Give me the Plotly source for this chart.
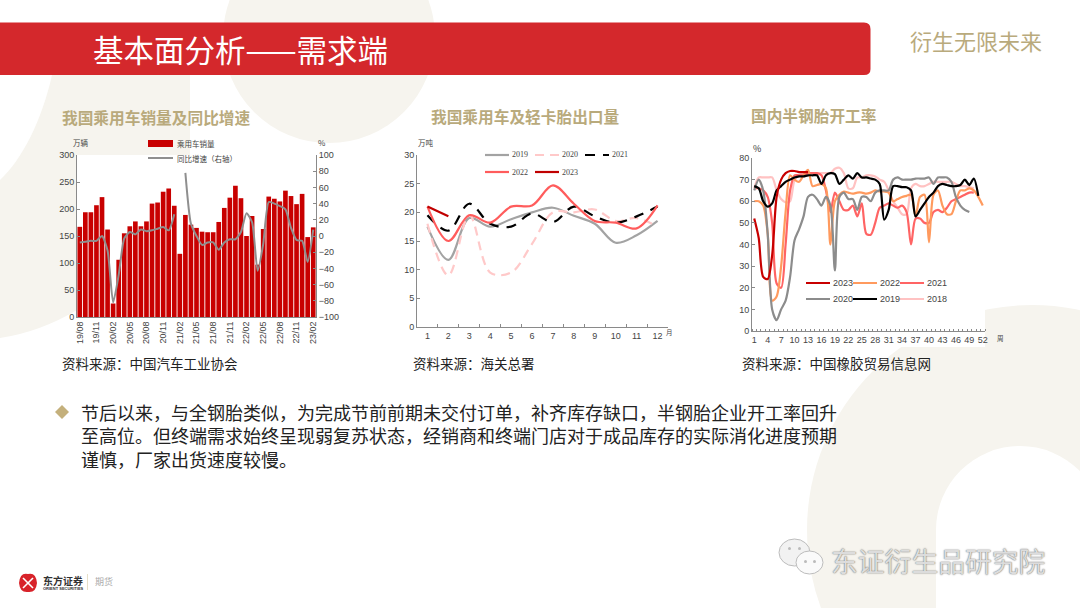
import plotly.graph_objects as go

W, H = 1080, 608
CJK = "Noto Sans CJK SC"
NUM = "Liberation Sans"
BEIGE = "#f6f4ee"
GOLD = "#b9aa7c"
AXIS = "#8a8a8a"

# ---------- Chart 1 data ----------
months = ["19/08","19/09","19/10","19/11","19/12","20/01","20/02","20/03","20/04","20/05","20/06",
          "20/07","20/08","20/09","20/10","20/11","20/12","21/01","21/02","21/03","21/04","21/05",
          "21/06","21/07","21/08","21/09","21/10","21/11","21/12","22/01","22/02","22/03","22/04",
          "22/05","22/06","22/07","22/08","22/09","22/10","22/11","22/12","23/01","23/02"]
month_ticks = ["19/08","19/11","20/02","20/05","20/08","20/11","21/02","21/05","21/08","21/11",
               "22/02","22/05","22/08","22/11","23/02"]
sales = [167,194,194,207,222,162,25,106,155,168,177,168,177,210,212,232,238,206,117,189,171,165,
         158,157,157,176,202,221,243,220,150,187,97,163,223,219,214,234,224,209,228,148,166]
yoy = [-8,-7,-6,-6,0,-18,-82,-48,-3,5,2,8,6,7,9,11,7,27,None,78,15,0,-11,-8,-8,-17,-8,-4,-4,5,28,
       17,-43,-10,42,40,37,33,10,-5,-6,-32,8]

# ---------- Chart 2 data ----------
month_nums = ["1","2","3","4","5","6","7","8","9","10","11","12"]
exp_2019 = [17.5,11.7,19,17.5,18.8,20,20.8,19.4,18,14.7,16,18.5]
exp_2020 = [18,9,19.5,9.5,9.5,14.5,20,20,20.5,18.5,19,17.5]
exp_2021 = [19.5,16.8,21.5,18,17.5,19.8,18.3,21,19.3,18.2,19.3,21]
exp_2022 = [21,15,19.5,18.2,21,21.2,24.7,21.5,18.5,18.2,17.2,21.2]
exp_2023 = [21,19.3]

# ---------- Chart 3 data ----------
weeks = list(range(1, 53))
week_ticks = list(range(1, 53, 3))
run_2023 = [52,43,25,24,35,62,70,73,74,74,73.5,73.5,73.5]
run_2022 = [60,60,58,45,14,16,30,55,72,70,69,72,74.5,67,67.5,68,66,40,60,63,64.5,64,63.5,64,64,63.5,
            64,65,64.5,64.5,64,60,61,62,62.5,63,53,62,63,41,63,65,58,54,54,60,65,65,66,65,62,58]
run_2021 = [66,66,65,62,50,22,20,40,65,72,72,72,73,73,73,72,65,55,64,60,56,56,58,53,59,45,44.5,50,57,
            58,59,58,57,58,55,40,52,52,50,50,55,56,55,57,60,61,62,63,64,64]
run_2020 = [65,70,65,45,10,5,10,14,25,42,47,53,62,63,61,58,62,58,28,62,64,61,61,56,62,62,60,64,65,65,
            65,70,71,70,70,70,70.5,70.5,70.5,71,68,71,71,71,69,62,58,56,55]
run_2019 = [67,66,60,57.5,59,65,67,69,70,71,71.5,71.5,72,72,72,68,72,73,72.5,68,70,72,70.5,73,71,71,
            70.5,70,68,51.5,56,67,67,66.5,66.5,65,53,56,59,62,64,67,68,67.5,67,67,67.5,70,67.5,70.5,62.5]
run_2018 = [66,71,71,71,71,65,61,59.5,60,70,72,73,73,73,73,73,73,73,75,75.5,73,66,66,71,71,72,72,71.5,
            70,69,65,60,57,54,54,66,68,67,67,68,69,69,69,69,69,68,67,67,66.5,66]

C2 = {"2019":("#a3a3a3",None),"2020":("#ffc9c9","9px,6px"),"2021":("#000000","10px,8px"),
      "2022":("#ff5c5c",None),"2023":("#c00000",None)}
C3 = {"2023":"#c80000","2022":"#ff9a5e","2021":"#ff6464","2020":"#8c8c8c","2019":"#000000","2018":"#ffc2c2"}

BODY = ("节后以来，与全钢胎类似，为完成节前前期未交付订单，补齐库存缺口，半钢胎企业开工率回升<br>"
        "至高位。但终端需求始终呈现弱复苏状态，经销商和终端门店对于成品库存的实际消化进度预期<br>"
        "谨慎，厂家出货速度较慢。")

def fx(v): return v / W
def fy(v): return 1 - v / H
def dom_x(a, b): return [fx(a), fx(b)]
def dom_y(top, bottom): return [fy(bottom), fy(top)]

def rect(x0, y0, x1, y1, color, layer="below"):
    return dict(type="rect", xref="paper", yref="paper", x0=fx(x0), x1=fx(x1), y0=fy(y0), y1=fy(y1),
                fillcolor=color, line_width=0, layer=layer)

def circle(x0, y0, x1, y1, color, line=None, layer="below"):
    return dict(type="circle", xref="paper", yref="paper", x0=fx(x0), x1=fx(x1), y0=fy(y0), y1=fy(y1),
                fillcolor=color, line=dict(width=1 if line else 0, color=line or color), layer=layer)

def seg(x0, y0, x1, y1, color, width=2, dash=None, layer="below"):
    return dict(type="line", xref="paper", yref="paper", x0=fx(x0), x1=fx(x1), y0=fy(y0), y1=fy(y1),
                line=dict(color=color, width=width, dash=dash or "solid"), layer=layer)

def path(cmds, color, layer="below"):
    out = []
    for c in cmds:
        if len(c) == 1:
            out.append(c[0])
        else:
            pts = [f"{fx(c[i])},{fy(c[i+1])}" for i in range(1, len(c), 2)]
            out.append(c[0] + " ".join(pts))
    return dict(type="path", xref="paper", yref="paper", path=" ".join(out), fillcolor=color,
                line_width=0, layer=layer)

shapes = [
    path([("M",52,75),("C",42,120,22,160,0,180),("L",0,338),("Q",40,332,77,310),("L",77,155),
          ("L",190,155),("L",190,75),("Z",)], BEIGE),
    circle(223,-69,435,143,BEIGE),
    circle(807,305,1257,755,BEIGE),
    circle(936,446,1104,614,"white"),
    rect(936,530,1080,608,"white"),
    rect(735,140,985,347,"white"),
    path([("M",0,22.5),("L",864,22.5),("Q",870.5,22.5,870.5,29),("L",870.5,69),("Q",870.5,75,864,75),
          ("L",0,75),("Z",)], "#d4282c"),
    path([("M",55,412),("L",62,405),("L",69,412),("L",62,419),("Z",)], "#c4b07c"),
    path([("M",28,574),("Q",36,572,37,583),("Q",36,593,28,592),("Q",20,593,19,583),("Q",20,572,28,574),("Z",)],
         "#d8232a"),
    seg(23,578,33,588,"white",1.6),
    seg(23,588,33,578,"white",1.6),
    seg(87.5,574,87.5,590,"#e6dfc8",1),
    circle(779,539,810,566,"#f2f2f2","#bdbdbd",layer="above"),
    circle(796,551,823,574,"#fafafa","#bdbdbd",layer="above"),
    circle(788,547,791,550,"#bbbbbb",layer="above"),
    circle(798,547,801,550,"#bbbbbb",layer="above"),
    circle(804,560,807,563,"#bbbbbb",layer="above"),
    circle(813,560,816,563,"#bbbbbb",layer="above"),
]

def note(x, y, text, size, color="#222222", anchor="left", font=CJK, bold=False, shadow=None, angle=0):
    f = dict(family=font, size=size, color=color, weight="bold" if bold else "normal")
    if shadow:
        f["shadow"] = shadow
    return dict(xref="paper", yref="paper", x=fx(x), y=fy(y), text=text, showarrow=False, font=f,
                xanchor=anchor, yanchor="middle", textangle=angle, borderpad=0, align="left")

annotations = [
    note(92,49,"基本面分析——需求端",30.5,"white"),
    note(909,40,"衍生无限未来",22,GOLD),
    note(61,117,"我国乘用车销量及同比增速",15.7,GOLD,bold=True),
    note(430,116.5,"我国乘用车及轻卡胎出口量",15.7,GOLD,bold=True),
    note(750,116,"国内半钢胎开工率",15.7,GOLD,bold=True),
    note(61,363,"资料来源：中国汽车工业协会",13.5),
    note(412,363,"资料来源：海关总署",13.5),
    note(741,363,"资料来源：中国橡胶贸易信息网",13.5),
    note(80,435.5,BODY,18),
    note(72,142,"万辆",7.5,"#444444"),
    note(317,142,"%",8,"#444444"),
    note(417,142,"万吨",7.5,"#444444"),
    note(665,332,"月",6.5,"#444444"),
    note(752,148,"%",9,"#333333"),
    note(996,338,"周",6.5,"#444444"),
    note(42,580,"东方证券",10,"#333333",bold=True),
    note(42,588,"ORIENT SECURITIES",4,"#333333",font=NUM,bold=True),
    note(94,581,"期货",9,"#aaaaaa"),
    note(830,560,"东证衍生品研究院",26.8,"#dcdcdc",shadow="0px 0px 1.5px #444444"),
]

# hand-placed keys: the reference's legends have tight, irregular spacing
shapes.append(rect(148,140,173,147,"#c80000"))
annotations.append(note(176,143.5,"乘用车销量",7.5,"#444444"))
shapes.append(seg(148,158,173,158,"#8f8f8f",2))
annotations.append(note(176,158,"同比增速（右轴）",7.5,"#444444"))

for name,(lx,ly) in {"2019":(485,155),"2020":(535,155),"2021":(585,155),"2022":(485,172),"2023":(535,172)}.items():
    color, dash = C2[name]
    shapes.append(seg(lx,ly,lx+24,ly,color,2.2,dash))
    annotations.append(note(lx+26,ly,name,8,"#444444",font="Liberation Serif"))

for name,(lx,ly) in {"2023":(806,283),"2022":(853,283),"2021":(900,283),
                     "2020":(806,299),"2019":(853,299),"2018":(900,299)}.items():
    shapes.append(seg(lx,ly,lx+24,ly,C3[name],2))
    annotations.append(note(lx+26,ly,name,9,"#444444",font=NUM))

fig = go.Figure()

fig.add_trace(go.Bar(x=months, y=sales, name="乘用车销量", marker_color="#c80000", marker_line_width=0,
                     xaxis="x", yaxis="y"))
fig.add_trace(go.Scatter(x=months, y=yoy, name="同比增速（右轴）", mode="lines", xaxis="x", yaxis="y2",
                         line=dict(color="#8f8f8f", width=2, shape="spline", smoothing=0.6)))

for name, vals in [("2019",exp_2019),("2020",exp_2020),("2021",exp_2021),("2022",exp_2022),("2023",exp_2023)]:
    color, dash = C2[name]
    fig.add_trace(go.Scatter(x=month_nums[:len(vals)], y=vals, name=name, mode="lines", xaxis="x2", yaxis="y3",
                             line=dict(color=color, width=2.2, shape="spline", dash=dash or "solid")))

for name, vals in [("2018",run_2018),("2021",run_2021),("2022",run_2022),("2020",run_2020),("2019",run_2019),("2023",run_2023)]:
    fig.add_trace(go.Scatter(x=weeks[:len(vals)], y=vals, name=name, mode="lines", xaxis="x3", yaxis="y4",
                             line=dict(color=C3[name], width=2.2, shape="spline", smoothing=0.8)))

tick_common = dict(showgrid=False, zeroline=False, showline=True, linecolor=AXIS, linewidth=1,
                   tickcolor=AXIS, ticklen=3, tickwidth=1, ticks="inside", automargin=False,
                   tickfont=dict(family=NUM, size=9, color="#444444"))

fig.update_layout(
    width=W, height=H, autosize=False, margin=dict(l=0, r=0, t=0, b=0, pad=0),
    paper_bgcolor="white", plot_bgcolor="rgba(0,0,0,0)", bargap=0.16, showlegend=False,
    shapes=shapes, annotations=annotations,
    xaxis=dict(domain=dom_x(77,316), anchor="y", type="category", categoryorder="array", categoryarray=months,
               tickmode="array", tickvals=month_ticks, ticktext=month_ticks, tickangle=-90,
               **{**tick_common, "ticks": ""}),
    yaxis=dict(domain=dom_y(155,317), anchor="x", range=[0,300], tick0=0, dtick=50, **tick_common),
    yaxis2=dict(domain=dom_y(155,317), anchor="x", overlaying="y", side="right", range=[-100,100], tick0=-100, dtick=20,
                **tick_common),
    xaxis2=dict(domain=dom_x(417,668), anchor="y3", type="category", categoryorder="array", categoryarray=month_nums,
                range=[-0.5,11.5], tickson="boundaries", **tick_common),
    yaxis3=dict(domain=dom_y(155,327), anchor="x2", range=[0,30], tick0=0, dtick=5, **tick_common),
    xaxis3=dict(domain=dom_x(752,985), anchor="y4", range=[0.5,52.5], tickmode="array", tickvals=week_ticks,
                minor=dict(tick0=0.5, dtick=1, ticks="inside", ticklen=2, tickcolor=AXIS, tickwidth=1),
                **{**tick_common, "ticks": ""}),
    yaxis4=dict(domain=dom_y(158,331), anchor="x3", range=[0,80], tick0=0, dtick=10, **tick_common),
)

fig.write_html("out.html", config={"displayModeBar": False},
               post_script="document.body.style.margin='0';document.body.style.overflow='hidden';")
